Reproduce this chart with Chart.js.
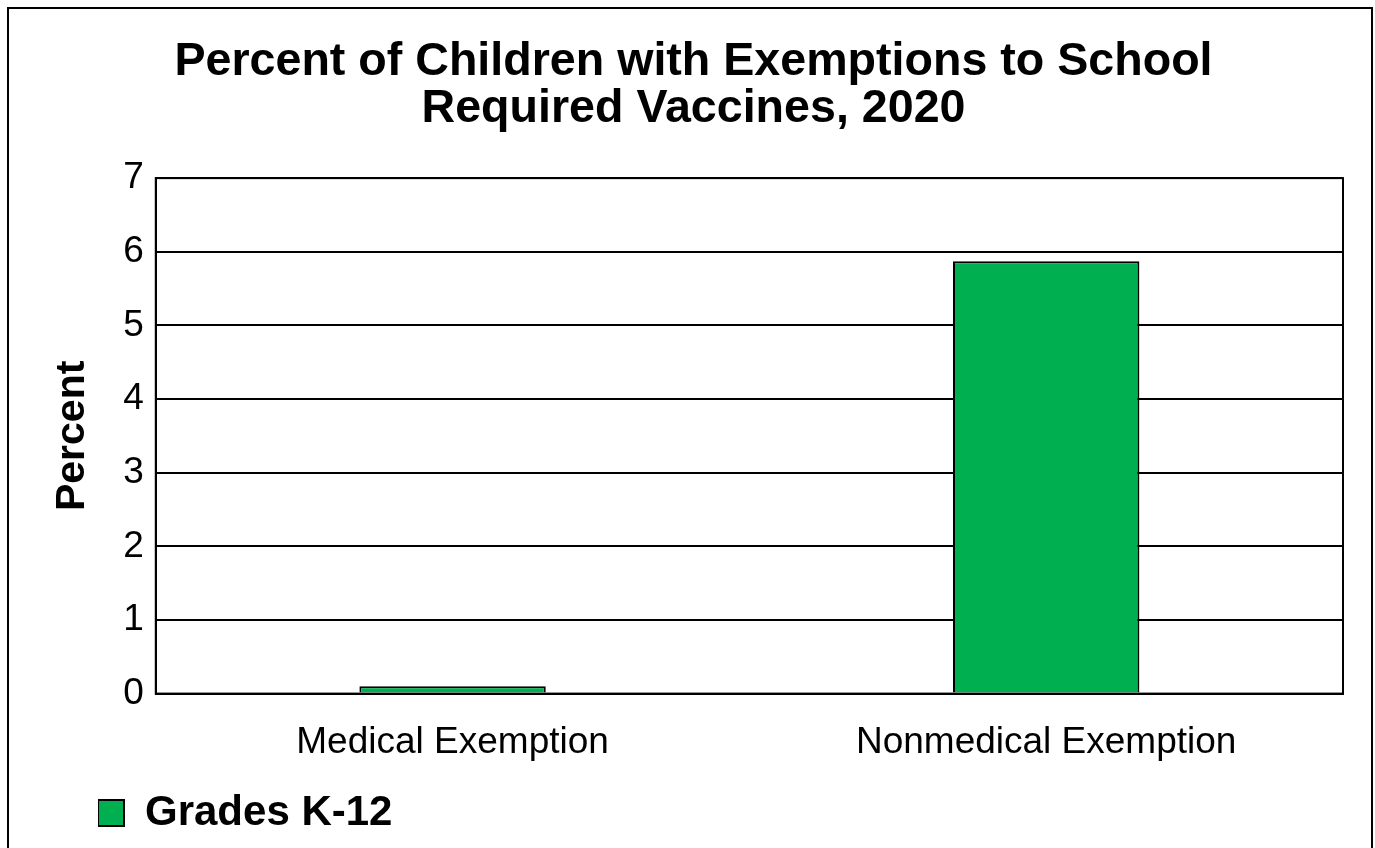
<!DOCTYPE html>
<html>
<head>
<meta charset="utf-8">
<script src="https://cdn.jsdelivr.net/npm/chart.js@4.4.0/dist/chart.umd.min.js"></script>
<style>
html,body{margin:0;padding:0;background:#fff;}
#wrap{position:absolute;left:0;top:0;width:1375px;height:848px;}
</style>
</head>
<body>
<div id="wrap"><canvas id="c" width="1375" height="848"></canvas></div>
<script>
const categories = ["Medical Exemption", "Nonmedical Exemption"];
const seriesName = "Grades K-12";
const seriesValues = [0.1, 5.87];
const titleLines = ["Percent of Children with Exemptions to School", "Required Vaccines, 2020"];
const yTicks = [0, 1, 2, 3, 4, 5, 6, 7];

const frame = {
  id: 'frame',
  afterLayout(chart) {
    if (chart.legend) { chart.legend.left += 54; }
  },
  beforeDraw(chart) {
    const ctx = chart.ctx;
    ctx.save();
    ctx.fillStyle = '#fff';
    ctx.fillRect(0, 0, chart.width, chart.height);
    ctx.strokeStyle = '#000';
    ctx.lineWidth = 2;
    ctx.strokeRect(8, 8, 1364, 860);
    ctx.restore();
  },
  afterDatasetsDraw(chart) {
    const a = chart.chartArea;
    const ctx = chart.ctx;
    ctx.save();
    ctx.strokeStyle = '#000';
    ctx.lineWidth = 2;
    ctx.strokeRect(a.left, a.top, a.right - a.left, a.bottom - a.top);
    ctx.restore();
  }
};

new Chart(document.getElementById('c'), {
  type: 'bar',
  data: {
    labels: categories,
    datasets: [{
      label: seriesName,
      data: seriesValues,
      backgroundColor: '#00B050',
      borderColor: '#000',
      borderWidth: 2,
      categoryPercentage: 1,
      barPercentage: 0.314
    }]
  },
  options: {
    responsive: false,
    animation: false,
    devicePixelRatio: 1,
    layout: { padding: { left: 44, right: 32, top: 29, bottom: 4 } },
    plugins: {
      title: {
        display: true,
        text: titleLines,
        color: '#000',
        font: { family: 'Liberation Sans, Arial', size: 46.6, weight: 'bold', lineHeight: 1.01 },
        padding: { top: 10, bottom: 45 }
      },
      legend: {
        position: 'bottom',
        align: 'start',
        labels: {
          color: '#000',
          boxWidth: 26,
          boxHeight: 26,
          padding: 0,
          font: { family: 'Liberation Sans, Arial', size: 42, weight: 'bold' }
        }
      },
      tooltip: { enabled: false }
    },
    scales: {
      x: {
        grid: { display: false, drawTicks: false },
        border: { color: '#000', width: 2 },
        ticks: {
          color: '#000',
          padding: 27,
          font: { family: 'Liberation Sans, Arial', size: 37 }
        }
      },
      y: {
        min: 0,
        max: 7,
        afterBuildTicks(axis) { axis.ticks = yTicks.map(v => ({ value: v })); },
        grid: { color: '#000', lineWidth: 2, drawTicks: false },
        border: { color: '#000', width: 2 },
        title: {
          display: true,
          text: 'Percent',
          color: '#000',
          font: { family: 'Liberation Sans, Arial', size: 41, weight: 'bold' },
          padding: { bottom: 14 }
        },
        ticks: {
          color: '#000',
          padding: 12,
          font: { family: 'Liberation Sans, Arial', size: 37 }
        }
      }
    }
  },
  plugins: [frame]
});
</script>
</body>
</html>
